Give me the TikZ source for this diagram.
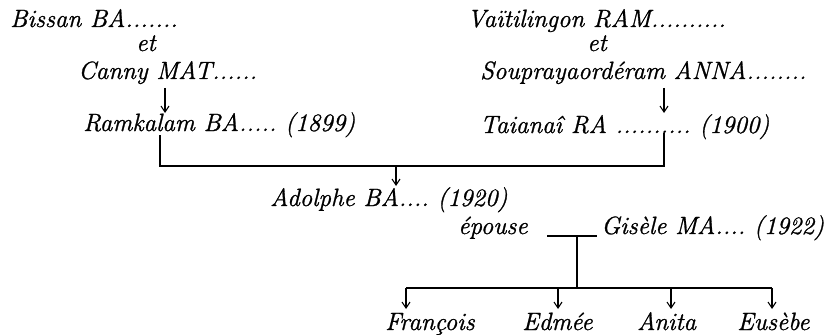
\documentclass[tikz,border=0pt]{standalone}
\usepackage{fontspec}
\setmainfont{Latin Modern Roman}[ItalicFeatures={FakeBold=1.1}]
\frenchspacing
\usetikzlibrary{arrows.meta}

\begin{document}
\begin{tikzpicture}[x=0.75pt,y=0.75pt,yscale=-1,xscale=1,
  person/.style={anchor=base west,inner sep=0pt,font=\fontsize{18.75}{22}\selectfont\itshape},
  link/.style={line width=1.1pt},
  down/.style={line width=0.8pt,-{Straight Barb[length=4.5pt,width=6pt]}}]
\useasboundingbox (0,0) rectangle (835,335);

% Text Node -- left parents
\node[person] (bissan) at (10,27) {Bissan BA.......};
\node[person] (etL) at (136,51) {et};
\node[person] (canny) at (78,79) {Canny MAT......};
\node[person] (ramkalam) at (83,131) {Ramkalam BA..... (1899)};

% Text Node -- right parents
\node[person] (vaiti) at (467,27) {Vaïtilingon RAM..........};
\node[person] (etR) at (587,51) {et};
\node[person] (soupra) at (480,79) {Souprayaordéram ANNA........};
\node[person] (taianai) at (480,133) {Taianaî RA .......... (1900)};

% Text Node -- couple
\node[person] (adolphe) at (270,206) {Adolphe BA.... (1920)};
\node[person] (epouse) at (458,234) {épouse};
\node[person] (gisele) at (601,234) {Gisèle MA.... (1922)};

% Text Node -- children
\node[person] (francois) at (385,330) {François};
\node[person] (edmee) at (522,330) {Edmée};
\node[person] (anita) at (637,330) {Anita};
\node[person] (eusebe) at (737,330) {Eusèbe};

% junctions
\coordinate (ramkalamJ) at (160,135);
\coordinate (taianaiJ) at (664,133);
\coordinate (bracketL) at (160,166);
\coordinate (bracketR) at (664,166);
\coordinate (adolpheJ) at (396,166);
\coordinate (mariageL) at (547,236);
\coordinate (mariageR) at (597,236);
\coordinate (mariageJ) at (577,236);
\coordinate (trunk) at (577,288);
\coordinate (barL) at (406,288);
\coordinate (barR) at (772,288);

% Straight Lines -- parents to child
\draw[down] (165,88) -- (165,113);
\draw[down] (664,88) -- (664,113);

% Straight Lines -- bracket
\draw[link] (ramkalamJ) -- (bracketL) -- (bracketR) -- (taianaiJ);
\draw[down] (adolpheJ) -- (396,186);

% Straight Lines -- marriage
\draw[link] (mariageL) -- (mariageR);
\draw[link] (mariageJ) -- (trunk);
\draw[link] (barL) -- (barR);

% Straight Lines -- children
\foreach \x in {406,558,671,772}
  \draw[down] (\x,288) -- (\x,309);

\end{tikzpicture}
\end{document}
